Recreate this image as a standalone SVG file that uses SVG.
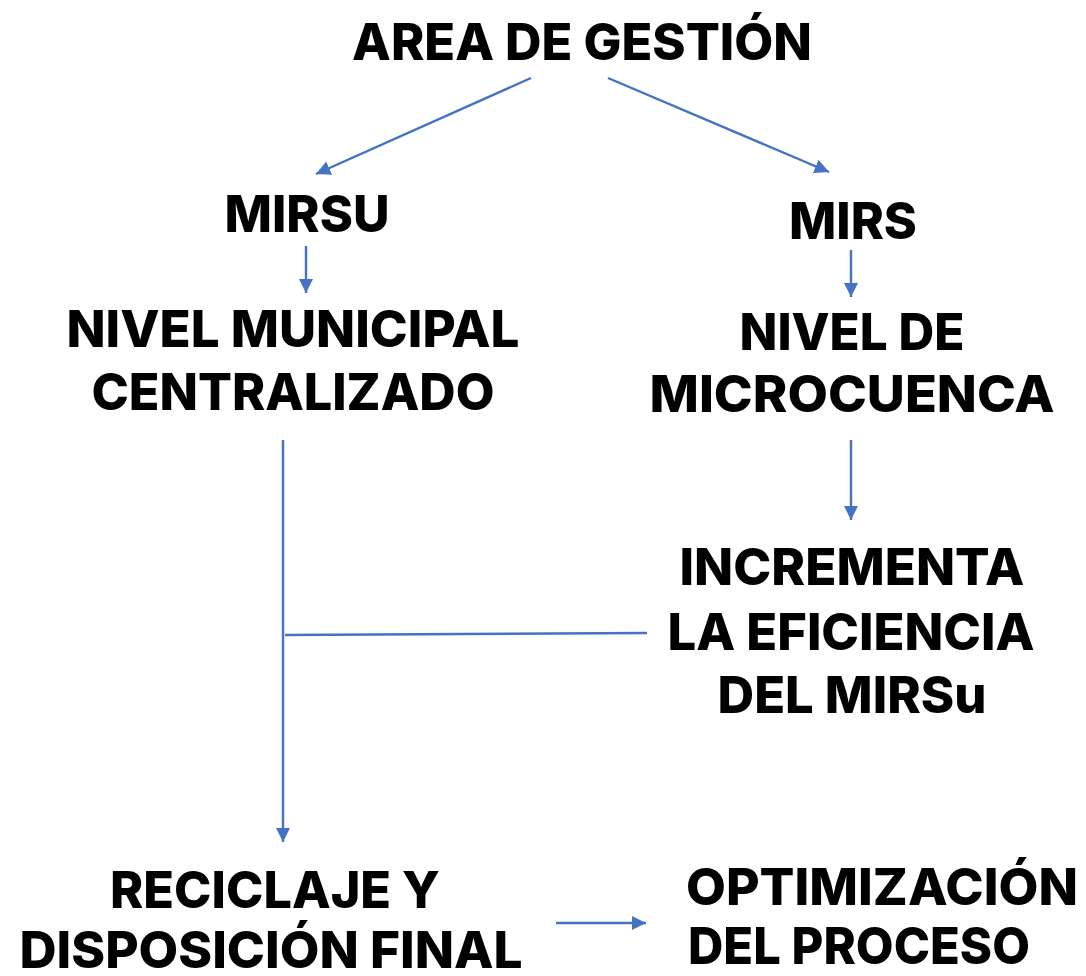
<svg xmlns="http://www.w3.org/2000/svg" width="1086" height="976" viewBox="0 0 1086 976">
<style>
text{font-family:Inter,"Open Sans","Liberation Sans",sans-serif;font-weight:800;font-size:51px;fill:#000}
.c{text-anchor:middle}
.ln{stroke:#4472C4;stroke-width:2.4;fill:none}
</style>
<defs>
<marker id="ah" viewBox="0 0 10 10" refX="10" refY="5" markerWidth="6" markerHeight="6" markerUnits="strokeWidth" orient="auto">
<path d="M0,0 L10,5 L0,10 z" fill="#4472C4"/>
</marker>
</defs>
<rect width="1086" height="976" fill="#fff"/>
<g id="connectors">
<line class="ln" x1="531" y1="78" x2="316" y2="174" marker-end="url(#ah)"/>
<line class="ln" x1="608" y1="78" x2="829" y2="172" marker-end="url(#ah)"/>
<line class="ln" x1="306" y1="246" x2="306" y2="293" marker-end="url(#ah)"/>
<line class="ln" x1="851" y1="250" x2="851" y2="297" marker-end="url(#ah)"/>
<line class="ln" x1="851" y1="440" x2="851" y2="520" marker-end="url(#ah)"/>
<line class="ln" x1="283" y1="440" x2="283" y2="842" marker-end="url(#ah)"/>
<line class="ln" x1="285" y1="635" x2="647" y2="633"/>
<line class="ln" x1="556" y1="923" x2="646" y2="923" marker-end="url(#ah)"/>
</g>
<g id="n-area"><text class="c" x="582" y="60" textLength="460" lengthAdjust="spacingAndGlyphs">AREA DE GESTIÓN</text></g>
<g id="n-mirsu"><text class="c" x="307" y="232" textLength="165" lengthAdjust="spacingAndGlyphs">MIRSU</text></g>
<g id="n-mirs"><text class="c" x="853" y="239" textLength="128" lengthAdjust="spacingAndGlyphs">MIRS</text></g>
<g id="n-municipal">
<text class="c" x="293" y="347" textLength="453" lengthAdjust="spacingAndGlyphs">NIVEL MUNICIPAL</text>
<text class="c" x="293" y="410" textLength="403" lengthAdjust="spacingAndGlyphs">CENTRALIZADO</text>
</g>
<g id="n-microcuenca">
<text class="c" x="852" y="350" textLength="225" lengthAdjust="spacingAndGlyphs">NIVEL DE</text>
<text class="c" x="852" y="412" textLength="405" lengthAdjust="spacingAndGlyphs">MICROCUENCA</text>
</g>
<g id="n-incrementa">
<text class="c" x="852" y="585" textLength="345" lengthAdjust="spacingAndGlyphs">INCREMENTA</text>
<text class="c" x="851" y="650" textLength="367" lengthAdjust="spacingAndGlyphs">LA EFICIENCIA</text>
<text class="c" x="852" y="713" textLength="269" lengthAdjust="spacingAndGlyphs">DEL MIRSu</text>
</g>
<g id="n-reciclaje">
<text class="c" x="275" y="908" textLength="330" lengthAdjust="spacingAndGlyphs">RECICLAJE Y</text>
<text class="c" x="271" y="968" textLength="503" lengthAdjust="spacingAndGlyphs">DISPOSICIÓN FINAL</text>
</g>
<g id="n-optimizacion">
<text x="686" y="905" textLength="392" lengthAdjust="spacingAndGlyphs">OPTIMIZACIÓN</text>
<text x="688" y="964" textLength="342" lengthAdjust="spacingAndGlyphs">DEL PROCESO</text>
</g>
</svg>
